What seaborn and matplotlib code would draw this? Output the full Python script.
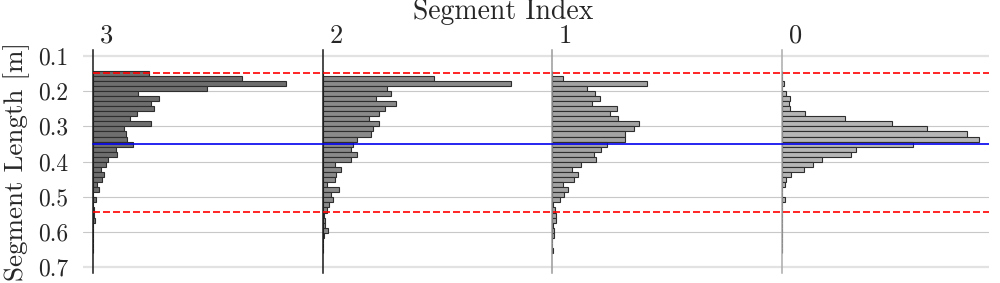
#Histogramas horizontales de longitud de segmento para cada indice de segmento
import numpy as np
import pandas as pd
import matplotlib
matplotlib.use("Agg")
import matplotlib.pyplot as plt
import seaborn as sns

#Bins del histograma (longitud del segmento en m)
bin_start = 0.1425
bin_width = 0.01436
n_bins = 36

#Cuentas por bin para cada segmento
segments = ["3", "2", "1", "0"]
counts_3 = [56, 149, 193, 114, 45, 66, 58, 61, 44, 37, 58, 31, 33, 34, 40, 23, 24, 15,
            13, 8, 11, 9, 4, 6, 0, 3, 0, 1, 1, 1.5, 0, 0, 0, 0, 0, 0]
counts_2 = [0, 111, 188, 64, 68, 53, 73, 62, 56, 46, 56, 50, 48, 34, 30, 28, 34, 28,
            12, 18, 13, 12, 4, 16, 8, 10, 6, 4, 1.5, 2, 2.5, 5, 1, 0, 0, 0]
counts_1 = [0, 11, 95, 35, 43, 48, 40, 65, 58, 66, 87, 82, 73, 73, 55, 49, 42, 44,
            29, 20, 26, 22, 11, 16, 12, 8, 1, 3, 4, 4, 0.7, 2, 2, 0, 0, 1]
counts_0 = [0, 0, 2, 0, 4, 8, 7, 8, 23, 63, 110, 145, 186, 198, 131, 74, 69, 40,
            31, 22, 9, 4, 3, 0, 0, 3, 0, 0, 0, 0, 0, 0, 0, 0, 0, 0]
all_counts = [counts_3, counts_2, counts_1, counts_0]

#Lineas de referencia
min_length = 0.149
max_length = 0.543
target_length = 0.35

y_ticks = [0.1, 0.2, 0.3, 0.4, 0.5, 0.6, 0.7]
y_tick_labels = ["0.1", "0.2", "0.3", "0.4", "0.5", "0.6", "0.7"]

fill_colors = ["#6e6e6e", "#8a8a8a", "#a3a3a3", "#b6b6b6"]
spine_colors = ["#1a1a1a", "#1a1a1a", "#9a9a9a", "#ababab"]

sns.set_style("white")
plt.rcParams["font.family"] = "serif"
plt.rcParams["font.serif"] = ["cmr10"]
plt.rcParams["mathtext.fontset"] = "cm"
plt.rcParams["axes.formatter.use_mathtext"] = True

edges = bin_start + bin_width * np.arange(n_bins + 1)
centers = (edges[:-1] + edges[1:]) / 2
ylim = (0.716, 0.084)

fig = plt.figure(figsize=(10, 2.83), dpi=100)
bottom = 1 - 273 / 283
height = (273 - 50) / 283

#Eje de fondo con la grilla y las etiquetas del eje y
bg = fig.add_axes([0.083, bottom, 0.906, height])
bg.set_ylim(*ylim)
bg.set_xlim(0, 1)
bg.set_yticks(y_ticks)
bg.set_yticklabels(y_tick_labels, fontsize=17)
bg.set_xticks([])
bg.tick_params(axis="y", length=0, pad=10.5)
for s in bg.spines.values():
    s.set_visible(False)
bg.grid(axis="y", color="#c8c8c8", linewidth=0.8)
for i, gl in enumerate(bg.get_ygridlines()):
    if i in (0, len(y_ticks) - 1):
        gl.set_color("#e2e2e2")
        gl.set_linewidth(1.6)

#Un panel por segmento
panel_w = 229.5 / 1000
for i, (seg, counts) in enumerate(zip(segments, all_counts)):
    df = pd.DataFrame({"Longitud": centers, "Cantidad": counts})
    ax = fig.add_axes([0.093 + panel_w * i, bottom, panel_w, height])
    ax.patch.set_alpha(0)
    sns.histplot(data=df, y="Longitud", weights="Cantidad", bins=list(edges),
                 color=fill_colors[i], edgecolor="#2e2e2e", linewidth=0.8, alpha=1, ax=ax)
    ax.set_ylim(*ylim)
    ax.set_xlim(0, 229.5)
    ax.set_xlabel("")
    ax.set_ylabel("")
    ax.set_xticks([])
    ax.set_yticks([])
    for name, s in ax.spines.items():
        s.set_visible(name == "left")
    ax.spines["left"].set_color(spine_colors[i])
    ax.spines["left"].set_linewidth(1.1)
    ax.text(7 / 229.5, 1.01, seg, transform=ax.transAxes, ha="left", va="bottom",
            fontsize=19)

#Lineas de referencia por encima de las barras
top = fig.add_axes([0.083, bottom, 0.906, height])
top.set_ylim(*ylim)
top.set_xlim(0, 1)
top.axis("off")
x0 = 10 / 906
top.axhline(min_length, xmin=x0, xmax=1, color="red", linestyle=(0, (4.2, 1.8)), linewidth=1.2)
top.axhline(max_length, xmin=x0, xmax=1, color="red", linestyle=(0, (4.2, 1.8)), linewidth=1.2)
top.axhline(target_length, xmin=x0, xmax=1, color="#0000ee", linewidth=1.2)

fig.text(0.503, 1 - 12 / 283, "Segment Index", ha="center", va="center", fontsize=20)
fig.text(0.017, 1 - 161 / 283, "Segment Length [m]", rotation=90, ha="center",
         va="center", fontsize=19.5)

plt.savefig("out.png", dpi=100)
